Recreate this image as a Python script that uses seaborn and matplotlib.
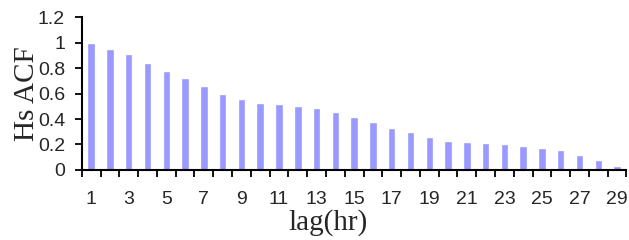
import numpy as np
import pandas as pd
import matplotlib
matplotlib.use("Agg")
import matplotlib.pyplot as plt
import seaborn as sns

# datos: autocorrelacion de Hs por lag (horas)
lags = list(range(1, 30))
acf = [1.00, 0.95, 0.91, 0.84, 0.78, 0.72, 0.66, 0.60, 0.56, 0.53,
       0.52, 0.50, 0.485, 0.455, 0.415, 0.375, 0.33, 0.30, 0.26, 0.23,
       0.217, 0.215, 0.20, 0.188, 0.175, 0.157, 0.118, 0.076, 0.034]
etiquetas_x = [str(l) if l % 2 == 1 else "" for l in lags]
ticks_y = [0, 0.2, 0.4, 0.6, 0.8, 1, 1.2]
etiquetas_y = ["0", "0.2", "0.4", "0.6", "0.8", "1", "1.2"]

df = pd.DataFrame({"lag": lags, "acf": acf})

sns.set_style("white")
plt.rcParams["font.family"] = ["Liberation Sans", "DejaVu Sans"]

fig = plt.figure(figsize=(6.29, 2.40), dpi=100)
ax = fig.add_axes([0.130, 0.292, 0.866, 0.636])

sns.barplot(data=df, x="lag", y="acf", color="#9999FF", width=0.4,
            saturation=1, ax=ax)

ax.set_xlim(-0.5, len(lags) - 0.5)
ax.set_ylim(0, 1.2)

# ticks de x en los bordes de cada categoria, etiquetas en el centro
ax.set_xticks(np.arange(-0.5, len(lags), 1.0))
ax.set_xticklabels([])
ax.set_xticks(np.arange(len(lags)), minor=True)
ax.set_xticklabels(etiquetas_x, minor=True, fontsize=14)
ax.tick_params(axis="x", which="major", bottom=True, direction="out",
               length=5, width=1.3, color="black")
ax.tick_params(axis="x", which="minor", bottom=True, length=0, pad=15)

ax.set_yticks(ticks_y)
ax.set_yticklabels(etiquetas_y, fontsize=14)
ax.tick_params(axis="y", left=True, direction="out", length=5, width=1.3,
               color="black", pad=7)

for lado in ["top", "right"]:
    ax.spines[lado].set_visible(False)
for lado in ["left", "bottom"]:
    ax.spines[lado].set_color("black")
    ax.spines[lado].set_linewidth(1.5)

ax.set_xlabel("lag(hr)", family=["Liberation Serif", "DejaVu Serif"],
              fontsize=21)
ax.xaxis.set_label_coords(0.452, -0.255)
ax.set_ylabel("Hs ACF", family=["Liberation Serif", "DejaVu Serif"],
              fontsize=21)
ax.yaxis.set_label_coords(-0.076, 0.5)

fig.savefig("out.png", dpi=100)
